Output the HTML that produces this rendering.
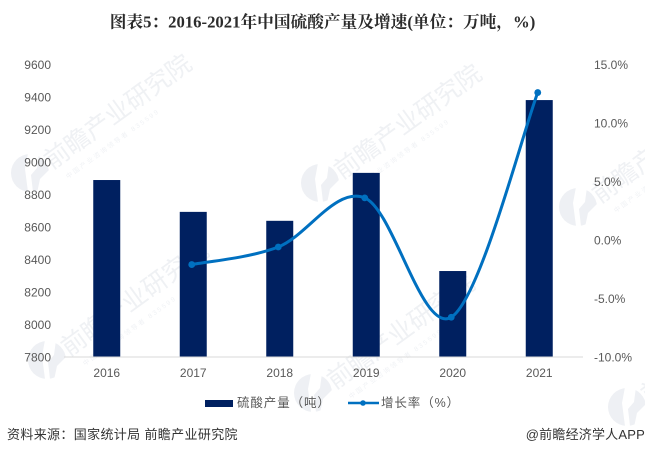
<!DOCTYPE html>
<html lang="zh">
<head>
<meta charset="utf-8">
<title>图表5</title>
<style>
html,body{margin:0;padding:0;background:#fff;}
svg{display:block;}
text{font-family:"Liberation Sans","Noto Sans CJK SC",sans-serif;}
</style>
</head>
<body>
<svg id="chart" xmlns="http://www.w3.org/2000/svg" width="645" height="455" viewBox="0 0 645 455">
  <rect width="645" height="455" fill="#fff"/>
  <g id="watermarks"></g>
  <text x="322.5" y="27.5" text-anchor="middle" font-size="16.7" font-weight="700" fill="#2b2b2b" style="font-family:'Liberation Serif','Noto Serif CJK SC',serif">图表5：2016-2021年中国硫酸产量及增速(单位：万吨，%)</text>
  <g id="left-axis"></g>
  <g id="right-axis"></g>
  <g id="x-axis"></g>
  <g id="bars"></g>
  <g id="line"></g>
  <g>
    <rect x="205" y="400" width="28" height="7" fill="#002060"/>
    <text x="237" y="407" font-size="12.5" letter-spacing="0.9" fill="#595959">硫酸产量（吨）</text>
    <line x1="348" y1="403" x2="379" y2="403" stroke="#0070C0" stroke-width="2.6"/>
    <circle cx="363" cy="403" r="2.8" fill="#0070C0"/>
    <text x="381" y="407" font-size="12.5" letter-spacing="0.9" fill="#595959">增长率（%）</text>
  </g>
  <text x="7" y="439" font-size="13" fill="#333" letter-spacing="0.35">资料来源：国家统计局 前瞻产业研究院</text>
  <text x="645" y="439" text-anchor="end" font-size="13" fill="#333" letter-spacing="0.2">@前瞻经济学人APP</text>
</svg>
<script>
var categories = ['2016', '2017', '2018', '2019', '2020', '2021'];
var productionValues = [8886, 8690, 8635, 8930, 8326, 9378];
var growthValues = [null, -2.1, -0.6, 3.6, -6.6, 12.6];
var leftTicks = [7800, 8000, 8200, 8400, 8600, 8800, 9000, 9200, 9400, 9600];
var rightTicks = [-10, -5, 0, 5, 10, 15];

var NS = 'http://www.w3.org/2000/svg';
var plotLeft = 64, plotRight = 583, plotTop = 64, plotBottom = 356.5;
var barWidth = 27;

function make(tag, attrs, parent) {
  var el = document.createElementNS(NS, tag);
  for (var k in attrs) { el.setAttribute(k, attrs[k]); }
  parent.appendChild(el);
  return el;
}
function xCenter(i) {
  return plotLeft + (plotRight - plotLeft) * (i + 0.5) / categories.length;
}
function yLeft(v) {
  var lo = leftTicks[0], hi = leftTicks[leftTicks.length - 1];
  return plotBottom - (v - lo) / (hi - lo) * (plotBottom - plotTop);
}
function yRight(v) {
  var lo = rightTicks[0], hi = rightTicks[rightTicks.length - 1];
  return plotBottom - (v - lo) / (hi - lo) * (plotBottom - plotTop);
}

var leftAxis = document.getElementById('left-axis');
leftTicks.forEach(function (t) {
  var el = make('text', { x: 51, y: yLeft(t) + 5, 'text-anchor': 'end', 'font-size': 12, fill: '#595959' }, leftAxis);
  
  
  el.textContent = String(t);
});

var rightAxis = document.getElementById('right-axis');
rightTicks.forEach(function (t) {
  var el = make('text', { x: 594, y: yRight(t) + 5, 'font-size': 12, fill: '#595959' }, rightAxis);
  
  
  el.textContent = t.toFixed(1) + '%';
});

var xAxis = document.getElementById('x-axis');
var axisLine = make('line', { x1: plotLeft, x2: plotRight, y1: plotBottom + 0.5, y2: plotBottom + 0.5, stroke: '#d9d9d9', 'stroke-width': 1 }, xAxis);


categories.forEach(function (c, i) {
  var el = make('text', { x: xCenter(i) - 0.5, y: 377, 'text-anchor': 'middle', 'font-size': 12, fill: '#595959' }, xAxis);
  
  
  el.textContent = c;
});

var barsG = document.getElementById('bars');
productionValues.forEach(function (v, i) {
  var top = yLeft(v);
  var el = make('rect', { x: xCenter(i) - 0.5 - barWidth / 2, y: top, width: barWidth, height: plotBottom - top, fill: '#002060' }, barsG);
  
  
});

var lineG = document.getElementById('line');
var pts = [];
growthValues.forEach(function (v, i) {
  if (v !== null) { pts.push([xCenter(i) - 2, yRight(v) + 0.5]); }
});
var d = 'M' + pts[0][0] + ' ' + pts[0][1];
for (var i = 0; i < pts.length - 1; i++) {
  var p0 = pts[Math.max(i - 1, 0)], p1 = pts[i], p2 = pts[i + 1], p3 = pts[Math.min(i + 2, pts.length - 1)];
  var c1x = p1[0] + (p2[0] - p0[0]) / 6, c1y = p1[1] + (p2[1] - p0[1]) / 6;
  var c2x = p2[0] - (p3[0] - p1[0]) / 6, c2y = p2[1] - (p3[1] - p1[1]) / 6;
  d += ' C' + c1x + ' ' + c1y + ' ' + c2x + ' ' + c2y + ' ' + p2[0] + ' ' + p2[1];
}
var path = make('path', { d: d, fill: 'none', stroke: '#0070C0', 'stroke-width': 3, 'stroke-linecap': 'round' }, lineG);


pts.forEach(function (p) {
  var c = make('circle', { cx: p[0], cy: p[1], r: 3.4, fill: '#0070C0' }, lineG);
  
  
});

var wmG = document.getElementById('watermarks');
[[30, 173], [320, 183], [578, 207], [47, 360], [313, 393], [627, 407]].forEach(function (o) {
  var g = make('g', { transform: 'translate(' + o[0] + ' ' + o[1] + ')' }, wmG);
  
  
  var logo = make('circle', { cx: 0, cy: 0, r: 19, fill: '#eef0f4' }, g);
  
  
  var cut = make('path', { d: 'M-2 -20 L-5 -4 L-2 19 L3 19 L1 2 L7 -5 L9 -20 Z M19 -3 L10 6 L7 20 L22 20 Z', fill: '#fff' }, g);
  
  
  var t = make('text', { transform: 'translate(22 -3) rotate(-36)', 'font-size': 25, fill: '#eff1f4' }, g);
  
  
  t.textContent = '前瞻产业研究院';
  var s = make('text', { transform: 'translate(38 6) rotate(-36)', 'font-size': 6.5, 'letter-spacing': 2, fill: '#f0f2f5' }, g);
  
  
  s.textContent = '中国产业咨询领导者 835599';
});
</script>
</body>
</html>
